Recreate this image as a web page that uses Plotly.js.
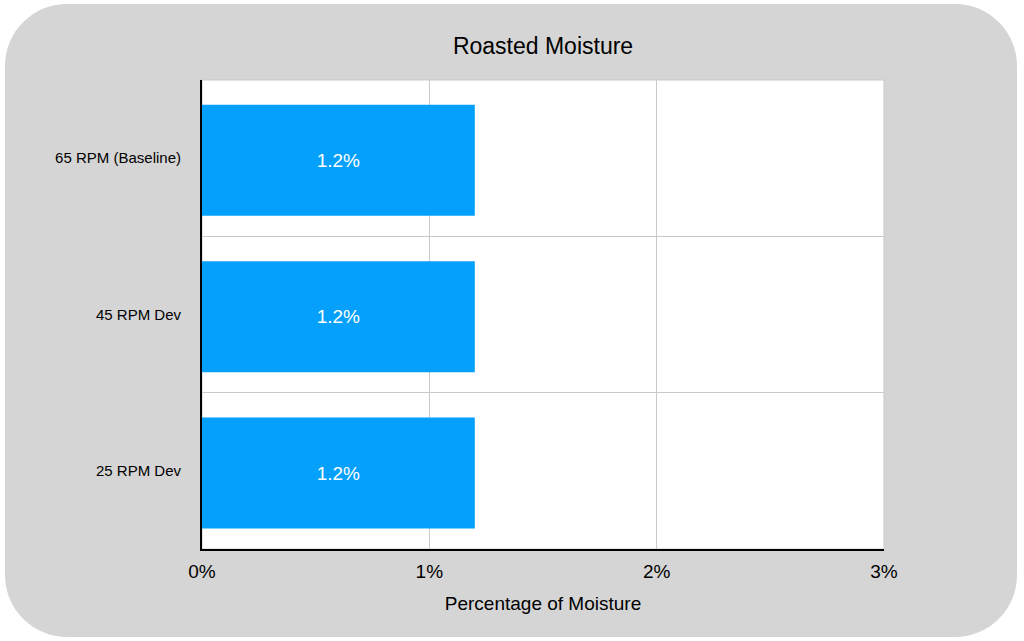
<!DOCTYPE html>
<html>
<head>
<meta charset="utf-8">
<script src="https://cdn.plot.ly/plotly-3.0.1.min.js"></script>
<style>
html,body{margin:0;padding:0;background:#ffffff;}
#chart{width:1024px;height:641px;}
</style>
</head>
<body>
<div id="chart"></div>
<script>
var categories = ['25 RPM Dev', '45 RPM Dev', '65 RPM (Baseline)'];
var moisture = [1.2, 1.2, 1.2];
var barLabels = ['1.2%', '1.2%', '1.2%'];
var xTickVals = [0, 1, 2, 3];
var xTickText = ['0%', '1%', '2%', '3%'];

var W = 1024, H = 641;
var mL = 202, mR = 140, mT = 80, mB = 92;
var pw = W - mL - mR, ph = H - mT - mB;
function px(x){ return ((x - mL) / pw).toFixed(5); }
function py(y){ return ((H - mB - y) / ph).toFixed(5); }

// rounded rectangle background in pixel terms
var x0 = 5, x1 = 1017, y0 = 4, y1 = 637, r = 62, k = 0.5523 * r;
var path = 'M ' + px(x0 + r) + ',' + py(y0) +
  ' L ' + px(x1 - r) + ',' + py(y0) +
  ' C ' + px(x1 - r + k) + ',' + py(y0) + ' ' + px(x1) + ',' + py(y0 + r - k) + ' ' + px(x1) + ',' + py(y0 + r) +
  ' L ' + px(x1) + ',' + py(y1 - r) +
  ' C ' + px(x1) + ',' + py(y1 - r + k) + ' ' + px(x1 - r + k) + ',' + py(y1) + ' ' + px(x1 - r) + ',' + py(y1) +
  ' L ' + px(x0 + r) + ',' + py(y1) +
  ' C ' + px(x0 + r - k) + ',' + py(y1) + ' ' + px(x0) + ',' + py(y1 - r + k) + ' ' + px(x0) + ',' + py(y1 - r) +
  ' L ' + px(x0) + ',' + py(y0 + r) +
  ' C ' + px(x0) + ',' + py(y0 + r - k) + ' ' + px(x0 + r - k) + ',' + py(y0) + ' ' + px(x0 + r) + ',' + py(y0) + ' Z';

var font = '"Liberation Sans", Arial, Helvetica, sans-serif';

var trace = {
  type: 'bar',
  orientation: 'h',
  y: categories,
  x: moisture,
  width: 0.71,
  offset: -0.369,
  text: barLabels,
  textposition: 'inside',
  insidetextanchor: 'middle',
  textfont: {color: '#ffffff', size: 19, family: font},
  marker: {color: '#04a0fb', line: {width: 0}},
  hoverinfo: 'none',
  cliponaxis: false
};

var layout = {
  width: W, height: H,
  margin: {l: mL, r: mR, t: mT, b: mB, pad: 0},
  paper_bgcolor: '#ffffff',
  plot_bgcolor: 'rgba(0,0,0,0)',
  showlegend: false,
  font: {family: font, color: '#000000'},
  title: {
    text: 'Roasted Moisture',
    font: {size: 23, family: font, color: '#000000'},
    x: 0.5, xref: 'paper', xanchor: 'center',
    y: 1 - 46 / H, yref: 'container', yanchor: 'middle'
  },
  xaxis: {
    range: [0, 3],
    tickmode: 'array',
    tickvals: xTickVals,
    ticktext: xTickText,
    tickfont: {size: 19, family: font, color: '#000000'},
    ticks: '',
    ticklabelstandoff: 4,
    showgrid: true, gridcolor: '#c9c9c9', gridwidth: 1,
    zeroline: false,
    showline: true, linecolor: '#000000', linewidth: 2,
    title: {text: 'Percentage of Moisture', font: {size: 19, family: font, color: '#000000'}, standoff: 16},
    fixedrange: true
  },
  yaxis: {
    type: 'category',
    categoryorder: 'array',
    categoryarray: categories,
    range: [-0.5, 2.5],
    tickson: 'boundaries',
    tickfont: {size: 15, family: font, color: '#000000'},
    ticks: '',
    ticklabelstandoff: 16,
    showgrid: true, gridcolor: '#c9c9c9', gridwidth: 1,
    zeroline: false,
    showline: true, linecolor: '#000000', linewidth: 2,
    fixedrange: true
  },
  shapes: [
    {type: 'path', xref: 'paper', yref: 'paper', path: path, fillcolor: '#d5d5d5', line: {width: 0}, layer: 'below'},
    {type: 'rect', xref: 'paper', yref: 'paper', x0: 0, x1: 1, y0: 0, y1: 1, fillcolor: '#ffffff', line: {color: '#c9c9c9', width: 1}, layer: 'below'}
  ]
};

Plotly.newPlot('chart', [trace], layout, {displayModeBar: false, staticPlot: true});
</script>
</body>
</html>
